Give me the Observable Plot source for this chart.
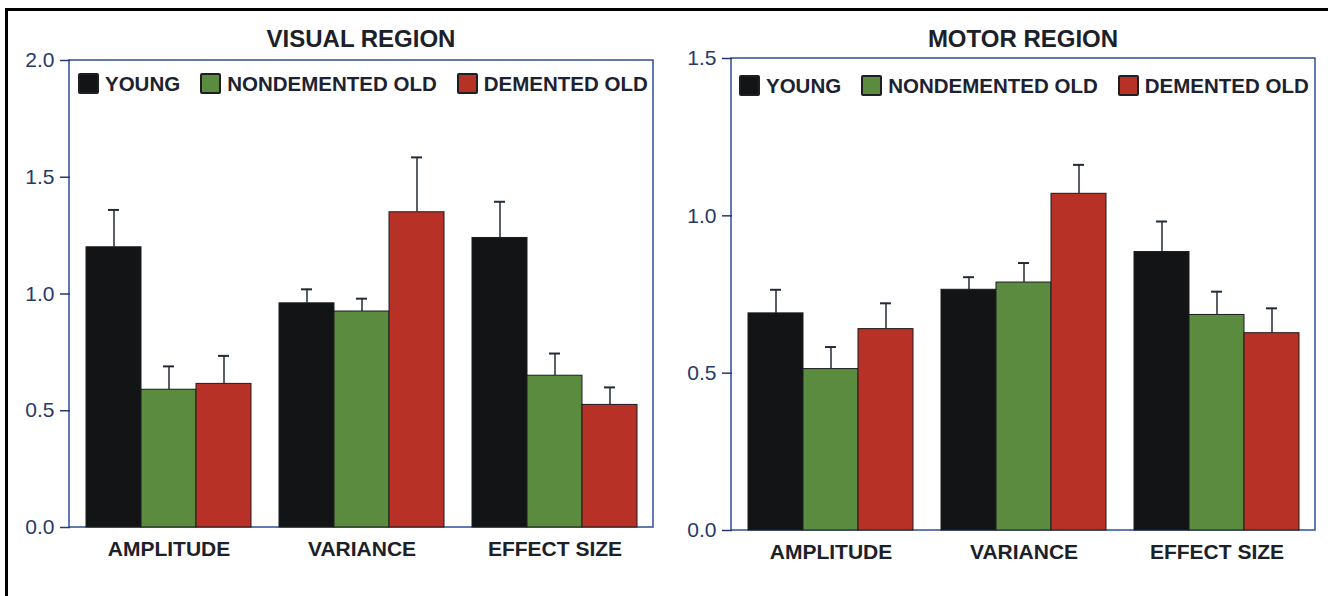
<!DOCTYPE html>
<html>
<head>
<meta charset="utf-8">
<script src="https://cdn.jsdelivr.net/npm/d3@7"></script>
<script src="https://cdn.jsdelivr.net/npm/@observablehq/plot@0.6"></script>
<style>
  html, body { margin: 0; padding: 0; background: #fff; }
  #page { position: relative; width: 1328px; height: 596px; overflow: hidden; background: #fff;
          font-family: "Liberation Sans", Arial, Helvetica, sans-serif; }
  #edge { position: absolute; left: 5px; top: 8px; right: -10px; bottom: -10px;
          border-top: 3px solid #000; border-left: 3px solid #000; }
  .panel { position: absolute; top: 0; width: 664px; height: 596px; }
  .panel svg { position: absolute; left: 0; top: 0; }
  .title { position: absolute; top: 27px; text-align: center; font-size: 24px; line-height: 24px;
           font-weight: bold; color: #1b2029; white-space: nowrap; }
  .legend { position: absolute; display: flex; align-items: center; gap: 20px; white-space: nowrap; }
  .legend .item { display: flex; align-items: center; gap: 6px; font-size: 20.5px; line-height: 20px;
                  font-weight: bold; color: #1c2230; }
  .legend .swatch { width: 17px; height: 17px; border: 2px solid #1d1f22; border-radius: 2px; }
</style>
</head>
<body>
<div id="page">
  <div id="edge"></div>
  <div id="left" class="panel" style="left:0px"></div>
  <div id="right" class="panel" style="left:664px"></div>
</div>
<script>
// Categories and groups
const measures = ["AMPLITUDE", "VARIANCE", "EFFECT SIZE"];
const groups = ["YOUNG", "NONDEMENTED OLD", "DEMENTED OLD"];
const groupColors = ["#121416", "#5a8b3e", "#b83126"];

// Visual region: means and standard errors per measure
const visualYoung = [1.20, 0.96, 1.24];
const visualYoungErr = [0.16, 0.06, 0.155];
const visualNondemented = [0.59, 0.925, 0.65];
const visualNondementedErr = [0.10, 0.055, 0.095];
const visualDemented = [0.615, 1.35, 0.525];
const visualDementedErr = [0.12, 0.235, 0.075];
const visualTicks = [0, 0.5, 1.0, 1.5, 2.0];

// Motor region: means and standard errors per measure
const motorYoung = [0.69, 0.765, 0.885];
const motorYoungErr = [0.075, 0.04, 0.097];
const motorNondemented = [0.513, 0.788, 0.685];
const motorNondementedErr = [0.07, 0.062, 0.074];
const motorDemented = [0.64, 1.07, 0.627];
const motorDementedErr = [0.082, 0.092, 0.079];
const motorTicks = [0, 0.5, 1.0, 1.5];

function rowsFor(series) {
  const rows = [];
  measures.forEach((m, i) => {
    series.forEach(([group, vals, errs]) => {
      rows.push({measure: m, group, value: vals[i], err: errs[i]});
    });
  });
  return rows;
}

const visualRows = rowsFor([
  [groups[0], visualYoung, visualYoungErr],
  [groups[1], visualNondemented, visualNondementedErr],
  [groups[2], visualDemented, visualDementedErr]
]);
const motorRows = rowsFor([
  [groups[0], motorYoung, motorYoungErr],
  [groups[1], motorNondemented, motorNondementedErr],
  [groups[2], motorDemented, motorDementedErr]
]);

const axisColor = "#26396a";
const frameColor = "#2f4f95";
const errColor = "#232a36";

function panel(container, {title, rows, ticks, margins, legendPos, axisShift}) {
  const width = 664, height = 596;
  const [mt, mr, mb, ml] = margins;
  const chart = Plot.plot({
    width, height,
    marginTop: mt, marginRight: mr, marginBottom: mb, marginLeft: ml,
    style: {fontFamily: '"Liberation Sans", Arial, sans-serif', background: "transparent", overflow: "visible"},
    fx: {domain: measures, paddingInner: 0.137, paddingOuter: 0.0775, label: null},
    x: {domain: groups, padding: 0, axis: null},
    y: {domain: [0, ticks[ticks.length - 1]], axis: null},
    color: {domain: groups, range: groupColors},
    marks: [
      Plot.barY(rows, {fx: "measure", x: "group", y: "value", fill: "group", stroke: "#1b1c1e", strokeWidth: 1}),
      Plot.ruleX(rows, {fx: "measure", x: "group", y1: "value", y2: d => d.value + d.err, stroke: errColor, strokeWidth: 1.5}),
      Plot.tickY(rows, {fx: "measure", x: "group", y: d => d.value + d.err, stroke: errColor, strokeWidth: 2, insetLeft: 22, insetRight: 22}),
      Plot.axisY({ticks, tickFormat: d3.format(".1f"), tickSize: 10, tickPadding: 6, dx: -axisShift,
                  fontSize: 21, color: axisColor, strokeWidth: 1.5, label: null}),
      Plot.axisFx({anchor: "bottom", tickSize: 0, tickPadding: 14, fontSize: 21, fontWeight: "bold",
                   color: "#1b2029", label: null})
    ]
  });
  // plot frame around the whole panel area
  d3.select(chart).insert("rect", ":first-child")
    .attr("x", ml).attr("y", mt)
    .attr("width", width - ml - mr).attr("height", height - mt - mb)
    .attr("fill", "none").attr("stroke", frameColor).attr("stroke-width", 1.5);
  container.appendChild(chart);

  const t = document.createElement("div");
  t.className = "title";
  t.style.left = ml + "px";
  t.style.width = (width - ml - mr) + "px";
  t.textContent = title;
  container.appendChild(t);

  const lg = document.createElement("div");
  lg.className = "legend";
  lg.style.left = legendPos[0] + "px";
  lg.style.top = legendPos[1] + "px";
  groups.forEach((g, i) => {
    const it = document.createElement("div");
    it.className = "item";
    const sw = document.createElement("div");
    sw.className = "swatch";
    sw.style.background = groupColors[i];
    const lab = document.createElement("span");
    lab.textContent = g;
    it.appendChild(sw);
    it.appendChild(lab);
    lg.appendChild(it);
  });
  container.appendChild(lg);
}

panel(document.getElementById("left"), {
  title: "VISUAL REGION", rows: visualRows, ticks: visualTicks,
  margins: [60, 11, 69, 69], legendPos: [78, 73], axisShift: 15
});
panel(document.getElementById("right"), {
  title: "MOTOR REGION", rows: motorRows, ticks: motorTicks,
  margins: [58, 13, 66, 67], legendPos: [75, 75], axisShift: 15
});
</script>
</body>
</html>
